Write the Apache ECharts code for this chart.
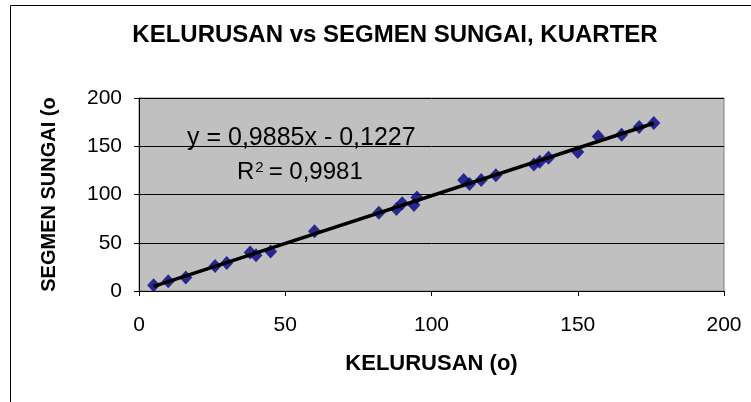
<!DOCTYPE html>
<html>
<head>
<meta charset="utf-8">
<script src="https://cdn.jsdelivr.net/npm/echarts@6/dist/echarts.min.js"></script>
<style>
  html, body { margin: 0; padding: 0; background: #fff; }
  #main { width: 751px; height: 402px; }
</style>
</head>
<body>
<div id="main"></div>
<script>
// kelurusan (x) vs segmen sungai (y)
var kelurusan = [5, 10, 16, 26, 30, 38, 40, 45, 60, 82, 88, 90, 94, 95, 111, 113, 117, 122, 135, 137, 140, 150, 157, 165, 171, 176]
var segmen = [6, 10, 14, 26, 29, 40, 37, 41, 62, 81, 85, 91, 89, 97, 115, 111, 115, 120, 131, 134, 138, 144, 160, 162, 170, 174]
var slope = 0.9885
var intercept = -0.1227
var eqText = 'y = 0,9885x - 0,1227'
var r2 = '0,9981'

var points = kelurusan.map(function (x, i) { return [x, segmen[i]] })
var xMin = Math.min.apply(null, kelurusan)
var xMax = Math.max.apply(null, kelurusan)
var trend = [[xMin, slope * xMin + intercept], [xMax, slope * xMax + intercept]]

var font = 'Liberation Sans, Arial'
var chart = echarts.init(document.getElementById('main'))
var option = {
  animation: false,
  title: {
    text: 'KELURUSAN vs SEGMEN SUNGAI, KUARTER',
    left: 390,
    top: 18,
    textAlign: 'center',
    textStyle: { fontFamily: font, fontSize: 24, fontWeight: 'bold', color: '#000' }
  },
  grid: {
    left: 139,
    right: 27,
    top: 98,
    bottom: 111,
    show: true,
    backgroundColor: '#c0c0c0',
    borderColor: '#808080',
    borderWidth: 1
  },
  xAxis: {
    type: 'value',
    min: 0,
    max: 200,
    interval: 50,
    name: 'KELURUSAN (o)',
    nameLocation: 'middle',
    nameGap: 62,
    nameTextStyle: { fontFamily: font, fontSize: 22, fontWeight: 'bold', color: '#000' },
    axisLine: { show: true, lineStyle: { color: '#000', width: 1 } },
    axisTick: { show: true, length: 5, lineStyle: { color: '#000' } },
    axisLabel: { fontFamily: font, fontSize: 21, color: '#000', margin: 24 },
    splitLine: { show: false }
  },
  yAxis: {
    type: 'value',
    min: 0,
    max: 200,
    interval: 50,
    name: 'SEGMEN SUNGAI (o',
    nameLocation: 'middle',
    nameGap: 80,
    nameRotate: 90,
    nameTextStyle: { fontFamily: font, fontSize: 20, fontWeight: 'bold', color: '#000' },
    axisLine: { show: true, lineStyle: { color: '#000', width: 1 } },
    axisTick: { show: true, length: 5, lineStyle: { color: '#000' } },
    axisLabel: { fontFamily: font, fontSize: 21, color: '#000', margin: 17 },
    splitLine: { show: true, lineStyle: { color: '#000', width: 1 } }
  },
  graphic: [
    {
      type: 'rect',
      left: 8, top: 3,
      shape: { width: 741, height: 420 },
      style: { fill: 'none', stroke: '#000', lineWidth: 1 },
      silent: true
    },
    {
      type: 'text',
      x: 187, y: 138,
      style: {
        text: eqText,
        font: '25px "Liberation Sans", Arial',
        fill: '#000',
        textAlign: 'left',
        textVerticalAlign: 'middle'
      },
      z: 10
    },
    {
      type: 'text',
      x: 237, y: 172,
      style: {
        text: '{b|R}{s|2}{b|= ' + r2 + '}',
        textAlign: 'left',
        textVerticalAlign: 'middle',
        rich: {
          b: { fontFamily: font, fontSize: 24, color: '#000' },
          s: { fontFamily: font, fontSize: 15, color: '#000', verticalAlign: 'top', padding: [0, 5, 6, 1] }
        }
      },
      z: 10
    }
  ],
  series: [
    {
      type: 'scatter',
      data: points,
      symbol: 'diamond',
      symbolSize: [13, 14],
      itemStyle: { color: '#000080' },
      z: 3
    },
    {
      type: 'line',
      data: trend,
      symbol: 'none',
      lineStyle: { color: '#000', width: 3.5 },
      z: 4
    }
  ]
}
option && chart.setOption(option)
</script>
</body>
</html>
